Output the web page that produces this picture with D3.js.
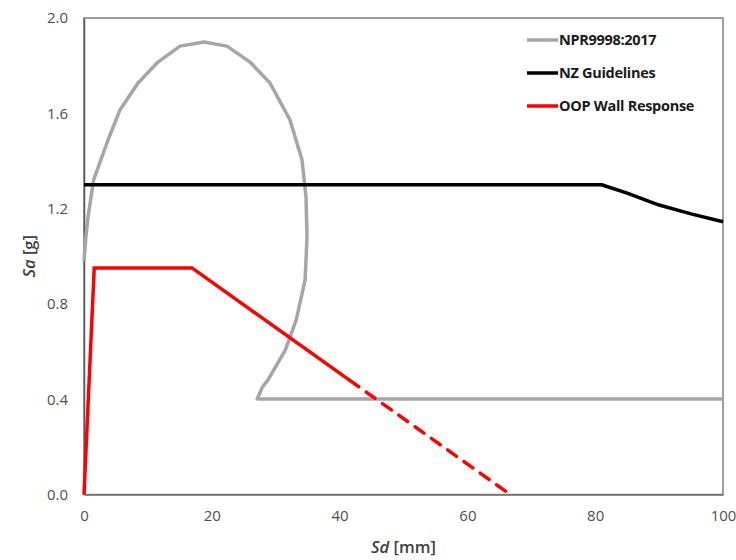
<!DOCTYPE html>
<html><head><meta charset="utf-8">
<script src="https://cdn.jsdelivr.net/npm/d3@7/dist/d3.min.js"></script>
<style>body{margin:0;background:#fff;}svg{display:block;}</style>
</head><body>
<svg id="c" width="736" height="560"></svg>
<script>
// NPR9998:2017 spectrum (Sd [mm], Sa [g])
const nprSd = [0, 0.3, 0.63, 1.5, 3.76, 5.63, 8.45, 11.58, 15.02, 18.78, 22.38, 25.98, 29.11, 32.24, 34.12, 34.74, 34.9, 34.6, 33.2, 31.5, 28.8, 27.9, 27.1, 100];
const nprSa = [0.98, 1.08, 1.165, 1.32, 1.488, 1.614, 1.727, 1.815, 1.882, 1.899, 1.882, 1.815, 1.727, 1.572, 1.404, 1.249, 1.081, 0.900, 0.732, 0.606, 0.481, 0.45, 0.401, 0.401];
// NZ Guidelines
const nzSd = [0, 81, 85, 90, 95, 100];
const nzSa = [1.30, 1.30, 1.265, 1.215, 1.178, 1.145];
// OOP Wall Response (solid part then dashed extension)
const oopSd = [0, 1.6, 16.9, 41.6];
const oopSa = [0, 0.951, 0.951, 0.479];
const oopDashSd = [41.6, 66.7];
const oopDashSa = [0.479, 0];
const xTicks = [0, 20, 40, 60, 80, 100];
const yTicks = [0.0, 0.4, 0.8, 1.2, 1.6, 2.0];
const seriesNames = ["NPR9998:2017", "NZ Guidelines", "OOP Wall Response"];
const seriesColors = ["#a6a6a6", "#000000", "#ff0000"];

const svg = d3.select("#c");
const L = 84, R = 723, T = 18, B = 494.5;
const x = d3.scaleLinear().domain([0, 100]).range([L, R]);
const y = d3.scaleLinear().domain([0, 2]).range([B, T]);
const zip = (a, b) => a.map((v, i) => [v, b[i]]);
const line = d3.line().x(d => x(d[0])).y(d => y(d[1]));

// frame
svg.append("rect").attr("x", L).attr("y", T).attr("width", R - L).attr("height", B - T)
  .attr("fill", "none").attr("stroke", "#7f7f7f").attr("stroke-width", 1.5);

// axes
const fontTick = "'Open Sans', sans-serif";
const xa = svg.append("g").attr("transform", `translate(0,${B})`)
  .call(d3.axisBottom(x).tickValues(xTicks).tickSize(0).tickPadding(16).tickFormat(d3.format("d")));
xa.select(".domain").attr("stroke", "#6f6f6f").attr("stroke-width", 1.5);
xa.selectAll("text").attr("font-family", fontTick).attr("font-size", 15).attr("fill", "#505050");
const ya = svg.append("g").attr("transform", `translate(${L},0)`)
  .call(d3.axisLeft(y).tickValues(yTicks).tickSize(0).tickPadding(16).tickFormat(d3.format(".1f")));
ya.select(".domain").attr("stroke", "#595959").attr("stroke-width", 1.5);
ya.selectAll("text").attr("font-family", fontTick).attr("font-size", 15).attr("fill", "#505050");

// series
svg.append("path").datum(zip(nprSd, nprSa)).attr("d", line)
  .attr("fill", "none").attr("stroke", seriesColors[0]).attr("stroke-width", 3.5).attr("stroke-linejoin", "round");
svg.append("path").datum(zip(nzSd, nzSa)).attr("d", line)
  .attr("fill", "none").attr("stroke", seriesColors[1]).attr("stroke-width", 3.5).attr("stroke-linejoin", "round");
svg.append("path").datum(zip(oopSd, oopSa)).attr("d", line)
  .attr("fill", "none").attr("stroke", seriesColors[2]).attr("stroke-width", 3.5).attr("stroke-linejoin", "miter");
svg.append("path").datum(zip(oopDashSd, oopDashSa)).attr("d", line)
  .attr("fill", "none").attr("stroke", seriesColors[2]).attr("stroke-width", 3.5)
  .attr("stroke-dasharray", "11,9").attr("stroke-linecap", "round");

// legend
const lg = svg.append("g");
seriesNames.forEach((n, i) => {
  const yy = 40 + i * 33;
  lg.append("line").attr("x1", 527).attr("x2", 558).attr("y1", yy).attr("y2", yy)
    .attr("stroke", seriesColors[i]).attr("stroke-width", 3.5);
  lg.append("text").attr("x", 559).attr("y", yy).attr("dy", "0.35em")
    .attr("font-family", fontTick).attr("font-weight", "bold").attr("font-size", 14.5)
    .attr("fill", "#1a1a1a").attr("letter-spacing", -0.3).text(n);
});

// axis titles
const xt = svg.append("text").attr("x", (L + R) / 2).attr("y", 553).attr("text-anchor", "middle")
  .attr("font-family", fontTick).attr("font-size", 16.5).attr("fill", "#404040").attr("font-weight", 600);
xt.append("tspan").attr("font-style", "italic").text("Sd");
xt.append("tspan").text(" [mm]");
const yt = svg.append("text").attr("transform", `translate(35,${(T + B) / 2}) rotate(-90)`).attr("text-anchor", "middle")
  .attr("font-family", fontTick).attr("font-size", 16.5).attr("fill", "#404040").attr("font-weight", 600);
yt.append("tspan").attr("font-style", "italic").text("Sa");
yt.append("tspan").text(" [g]");
</script>
</body></html>
